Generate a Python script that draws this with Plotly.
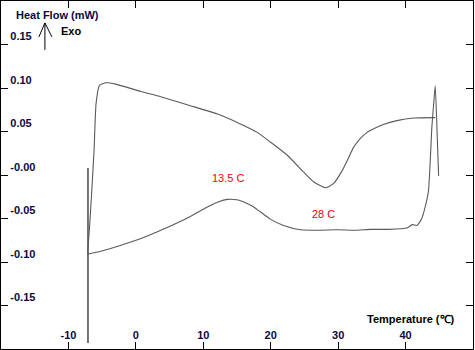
import plotly.graph_objects as go

# Lower (heating) branch incl. final spike
lower_T = [-7.15, -5.2, -2.2, -0.74, 1.7, 5.3, 8.1, 10.6, 12.2, 13.6, 15.0, 16.0, 17.3, 18.5, 20.0, 21.9,
           24.4, 27.0, 29.9, 32.5, 34.8, 37.5, 40.2, 41.0, 41.7, 42.4, 42.9, 43.4, 43.9, 44.2, 44.4,
           44.65, 44.9]
lower_v = [-0.091, -0.0877, -0.0808, -0.077, -0.070, -0.058, -0.0476, -0.0369, -0.031, -0.028, -0.0285,
           -0.031, -0.036, -0.0426, -0.051, -0.058, -0.063, -0.0635, -0.063, -0.0635, -0.0625, -0.0625,
           -0.061, -0.057, -0.058, -0.050, -0.037, -0.018, 0.055, 0.085, 0.1026, 0.055, -0.001]

# Upper (cooling) branch
upper_T = [44.4, 41.2, 38.7, 36.7, 35.5, 34.3, 33.3, 32.3, 31.5, 30.6, 29.3, 28.1, 26.4, 24.9, 22.5,
           20.0, 18.0, 15.5, 12.1, 8.1, 3.7, 0.74, -3.0, -4.4, -5.4, -5.9, -6.2, -6.8, -7.15]
upper_v = [0.066, 0.0655, 0.0625, 0.058, 0.054, 0.049, 0.042, 0.032, 0.019, 0.005, -0.010, -0.0147,
           -0.008, 0.0032, 0.0224, 0.0376, 0.049, 0.0587, 0.070, 0.0797, 0.090, 0.096, 0.1045, 0.106,
           0.103, 0.082, 0.028, -0.052, -0.090]

# Initial vertical jump
jump_T = [-7.1, -7.1]
jump_v = [0.008, -0.193]

x_ticks = [-10, 0, 10, 20, 30, 40]
x_labels = ["-10", "0", "10", "20", "30", "40"]
y_ticks = [0.15, 0.10, 0.05, 0.0, -0.05, -0.10, -0.15]
y_labels = ["0.15", "0.10", "0.05", "-0.00", "-0.05", "-0.10", "-0.15"]

peak_labels = ["13.5 C", "28 C"]
peak_pos_T = [13.7, 27.8]
peak_pos_v = [-0.0035, -0.0445]

FONT = "Liberation Sans, Arial, sans-serif"
NAVY = "#0a0a3c"

fig = go.Figure()
fig.add_trace(go.Scatter(x=jump_T, y=jump_v, mode="lines", line=dict(color="#1a1a1a", width=1.2),
                         showlegend=False, hoverinfo="skip"))
fig.add_trace(go.Scatter(x=lower_T, y=lower_v, mode="lines",
                         line=dict(color="#5a5a5a", width=1.1, shape="spline", smoothing=0.5),
                         showlegend=False))
fig.add_trace(go.Scatter(x=upper_T, y=upper_v, mode="lines",
                         line=dict(color="#5a5a5a", width=1.1, shape="spline", smoothing=0.5),
                         showlegend=False))

for lab, t, v in zip(peak_labels, peak_pos_T, peak_pos_v):
    fig.add_annotation(x=t, y=v, text=lab, showarrow=False, xref="x", yref="y",
                       font=dict(family=FONT, size=11, color="#ff0000"))

fig.add_annotation(x=13 / 473, y=1 - 14 / 349, xref="paper", yref="paper", xanchor="left", yanchor="middle",
                   text="<b>Heat Flow (mW)</b>", showarrow=False, font=dict(family=FONT, size=11, color=NAVY))
fig.add_annotation(x=58 / 473, y=1 - 30 / 349, xref="paper", yref="paper", xanchor="left", yanchor="middle",
                   text="<b>Exo</b>", showarrow=False, font=dict(family=FONT, size=11, color="#000000"))
fig.add_annotation(x=457 / 473, y=1 - 319 / 349, xref="paper", yref="paper", xanchor="right", yanchor="middle",
                   text="<b>Temperature (℃)</b>", showarrow=False, font=dict(family=FONT, size=11, color="#000000"))

# Exo arrow
ax = 44 / 473
for (x0, y0, x1, y1) in [(ax, 1 - 49 / 349, ax, 1 - 22 / 349),
                         (38 / 473, 1 - 36 / 349, ax, 1 - 22 / 349),
                         (51 / 473, 1 - 36 / 349, ax, 1 - 22 / 349)]:
    fig.add_shape(type="line", xref="paper", yref="paper", x0=x0, y0=y0, x1=x1, y1=y1,
                  line=dict(color="#000000", width=1))

fig.update_xaxes(range=[-20, 50], tickvals=x_ticks, ticktext=x_labels, ticks="inside", ticklen=7,
                 ticklabelposition="inside", showline=True, mirror="ticks", linecolor="#000000", linewidth=1,
                 showgrid=False, zeroline=False, tickcolor="#000000",
                 tickfont=dict(family=FONT, size=11, color=NAVY, weight="bold"))
fig.update_yaxes(range=[-0.2, 0.2], tickvals=y_ticks, ticktext=y_labels, ticks="inside", ticklen=7,
                 ticklabelposition="inside top", ticklabelstandoff=8, showline=True, mirror="ticks",
                 linecolor="#000000", linewidth=1,
                 showgrid=False, zeroline=False, tickcolor="#000000",
                 tickfont=dict(family=FONT, size=11, color=NAVY, weight="bold"))

fig.update_layout(width=475, height=350, margin=dict(l=1, r=2, t=1, b=1),
                  plot_bgcolor="#ffffff", paper_bgcolor="#ffffff", showlegend=False)

fig.write_html("out.html")
